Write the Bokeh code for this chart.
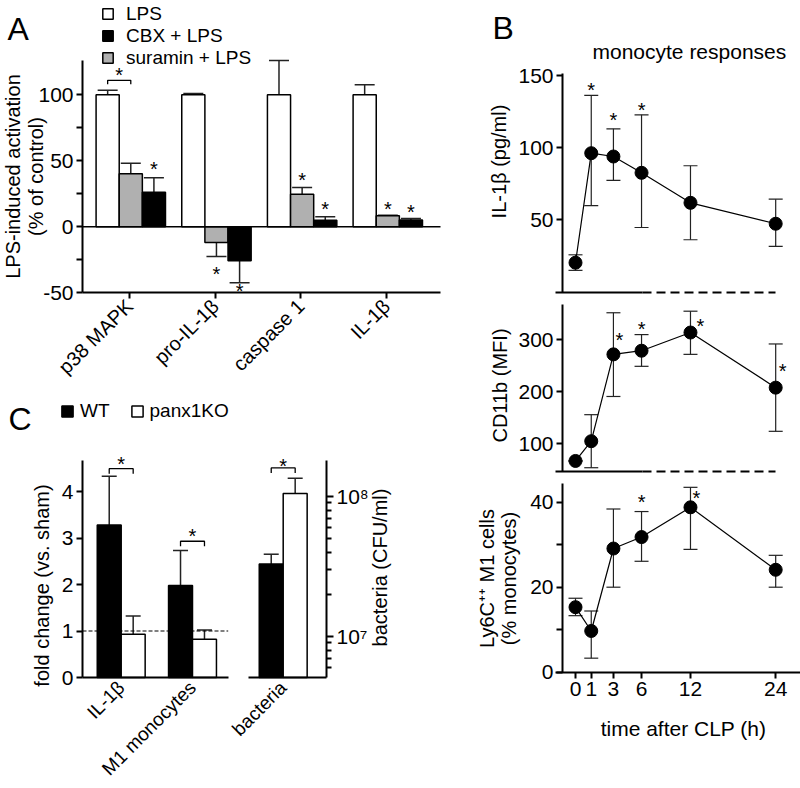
import numpy as np
from bokeh.plotting import figure
from bokeh.models import (ColumnDataSource, Whisker, TeeHead, Legend, LegendItem,
                          Label, FixedTicker, CustomJSTickFormatter, Range1d,
                          LinearAxis, LogAxis, LogScale)
from bokeh.embed import file_html
from bokeh.resources import INLINE
from bokeh.core.properties import value

FONT = "Liberation Sans"
ERRC = "#222222"
GRAY = "#b0b0b0"
W, H = 800, 788
NUM_SIZE = "21px"
CAT_SIZE = "20px"

# ---------------- Panel A data ----------------
a_categories = ["p38 MAPK", "pro-IL-1β", "caspase 1", "IL-1β"]
a_lps = [100.0, 100.0, 100.0, 100.0]
a_lps_err_end = [103.5, 101.0, 126.0, 107.6]
a_suramin = [40.2, -11.9, 24.7, 8.3]
a_suramin_err_end = [48.2, -22.5, 29.8, 8.7]
a_cbx = [26.2, -25.8, 5.0, 5.2]
a_cbx_err_end = [37.1, -42.4, 7.6, 6.3]
a_y_ticks = [-50, -25, 0, 25, 50, 75, 100]
a_y_labels = ["-50", "", "0", "", "50", "", "100"]
a_star_series = ["cbx", "suramin", "cbx", "suramin", "cbx", "suramin", "cbx"]
a_star_cat = [0, 1, 1, 2, 2, 3, 3]
a_star_y = [45.7, -33.6, -46.7, 37.6, 15.4, 15.6, 13.3]
a_bracket_y = 111.0
a_bracket_star_y = 117.0

# ---------------- Panel B data ----------------
time_h = [0, 1, 3, 6, 12, 24]
il1b = [20.3, 96.2, 93.9, 82.6, 61.8, 47.3]
il1b_hi = [25.8, 136.2, 113.1, 122.8, 87.5, 64.3]
il1b_lo = [15.0, 59.8, 77.3, 44.7, 36.2, 31.6]
cd11b = [67.0, 105.0, 272.0, 279.0, 314.0, 208.0]
cd11b_hi = [67.0, 156.0, 352.0, 310.0, 355.0, 292.0]
cd11b_lo = [67.0, 54.0, 191.0, 249.0, 272.0, 124.0]
ly6c = [15.3, 9.7, 29.1, 31.8, 38.8, 24.1]
ly6c_hi = [17.4, 14.4, 38.4, 37.8, 43.5, 27.5]
ly6c_lo = [13.3, 3.3, 20.0, 26.1, 28.9, 20.0]
b1_star_t = [1, 3, 6]
b1_star_y = [142.0, 121.0, 128.5]
b2_star_t = [3, 6, 12, 24]
b2_star_y = [305.0, 327.0, 332.0, 245.0]
b3_star_t = [6, 12]
b3_star_y = [40.8, 41.6]

# ---------------- Panel C data ----------------
c_categories = ["IL-1β", "M1 monocytes"]
c_wt = [3.28, 1.98]
c_wt_err_end = [4.33, 2.73]
c_ko = [0.93, 0.82]
c_ko_err_end = [1.32, 1.02]
c_bracket_y = [4.49, 2.93]
bac_category = ["bacteria"]
bac_wt = [3.3e7]
bac_wt_err_end = [3.87e7]
bac_ko = [1.05e8]
bac_ko_err_end = [1.35e8]
bac_bracket_y = 1.6e8
c2_major = [1e7, 1e8]
c2_minor = [6e6, 7e6, 8e6, 9e6, 2e7, 3e7, 4e7, 5e7, 6e7, 7e7, 8e7, 9e7]


# ---------------- helpers: pixel geometry -> ranges ----------------
def xlin(v0, p0, ppu):
    f = lambda q: v0 + (q - p0) / ppu
    return f, Range1d(f(0), f(W))


def ylin(v0, p0, ppu):
    f = lambda q: v0 - (q - p0) / ppu
    return f, Range1d(f(H), f(0))


def ylog(v0, p0, ppd):
    f = lambda q: 10 ** (np.log10(v0) - (q - p0) / ppd)
    return f, Range1d(f(H), f(0))


xA, rxA = xlin(0.0, 129.0, 85.67)
yA, ryA = ylin(0.0, 226.3, 1.32)
xC1, rxC1 = xlin(0.0, 120.7, 71.3)
yC1, ryC1 = ylin(0.0, 677.0, 46.5)
xC2, rxC2 = xlin(0.0, 282.7, 71.3)
yC2, ryC2 = ylog(1e7, 636.0, 140.0)
xB, rxB = xlin(0.0, 575.0, 15.75)
yB1, ryB1 = ylin(0.0, 291.5, 1.443)
yB2, ryB2 = ylin(300.0, 339.3, 0.52)
yB3, ryB3 = ylin(0.0, 671.7, 4.25)

p = figure(width=W, height=H, min_border=0, x_axis_location=None, y_axis_location=None,
           toolbar_location=None, output_backend="svg",
           x_range=Range1d(0, W), y_range=Range1d(H, 0),
           extra_x_ranges=dict(ax=rxA, c1x=rxC1, c2x=rxC2, bx=rxB),
           extra_y_ranges=dict(ay=ryA, c1y=ryC1, c2y=ryC2, b1y=ryB1, b2y=ryB2, b3y=ryB3),
           extra_y_scales=dict(c2y=LogScale()))
p.outline_line_color = None
p.background_fill_color = "white"
p.border_fill_color = "white"
p.grid.visible = False

STAR_DY = 3


def style(ax, size=NUM_SIZE):
    ax.axis_line_width = 2
    ax.axis_line_color = "black"
    ax.major_tick_line_width = 2
    ax.major_tick_line_color = "black"
    ax.major_tick_in = 0
    ax.major_tick_out = 6
    ax.minor_tick_line_color = None
    ax.major_label_text_font = FONT
    ax.major_label_text_font_size = size
    ax.major_label_text_color = "black"
    ax.major_label_standoff = 3
    return ax


def fixed_fmt(tick_vals, tick_labels):
    return CustomJSTickFormatter(args=dict(tv=[float(v) for v in tick_vals], tl=list(tick_labels)), code="""
        for (let i = 0; i < tv.length; i++) {
            if (Math.abs(tv[i] - tick) <= 1e-6 * Math.max(1, Math.abs(tick))) return tl[i];
        }
        return '';
    """)


def add_axis(side, xr, yr, loc, bounds, ticks=None, labels=None, minor=None, log=False,
             size=NUM_SIZE, dash=None):
    cls = LogAxis if log else LinearAxis
    ax = style(cls(x_range_name=xr, y_range_name=yr, fixed_location=loc, bounds=bounds), size)
    if ticks is None:
        ax.ticker = FixedTicker(ticks=[])
        ax.major_label_text_font_size = "0px"
    else:
        ax.ticker = FixedTicker(ticks=list(ticks), minor_ticks=list(minor or []))
        if labels is not None:
            ax.formatter = fixed_fmt(ticks, labels)
    if dash is not None:
        ax.axis_line_dash = dash
    p.add_layout(ax, side)
    return ax


def label(text, x, y, size="20px", angle=0.0, align="left", baseline="alphabetic"):
    p.add_layout(Label(x=x, y=y, text=text, text_font=FONT, text_font_size=size,
                       text_align=align, text_baseline=baseline, angle=angle,
                       text_color="black"))


def stars(xr, yr, xs, ys, dx=None, size="20px"):
    n = len(xs)
    src = ColumnDataSource(dict(x=list(xs), y=list(ys), t=["*"] * n,
                                dx=list(dx) if dx is not None else [0] * n))
    p.text(x="x", y="y", text="t", x_offset="dx", y_offset=STAR_DY, source=src,
           text_font=value(FONT), text_font_size=size, text_align="center",
           text_baseline="alphabetic", text_color="black",
           x_range_name=xr, y_range_name=yr)


def bar_whiskers(xr, yr, xs, vals, ends, size, lw=1.5):
    up = dict(x=[], lo=[], hi=[])
    dn = dict(x=[], lo=[], hi=[])
    for x, v, e in zip(xs, vals, ends):
        if e >= v:
            up["x"].append(x); up["lo"].append(v); up["hi"].append(e)
        else:
            dn["x"].append(x); dn["lo"].append(e); dn["hi"].append(v)
    if up["x"]:
        p.add_layout(Whisker(source=ColumnDataSource(up), base="x", lower="lo", upper="hi",
                             x_range_name=xr, y_range_name=yr,
                             line_color=ERRC, line_width=lw, lower_head=None,
                             upper_head=TeeHead(size=size, line_color=ERRC, line_width=lw)))
    if dn["x"]:
        p.add_layout(Whisker(source=ColumnDataSource(dn), base="x", lower="lo", upper="hi",
                             x_range_name=xr, y_range_name=yr,
                             line_color=ERRC, line_width=lw, upper_head=None,
                             lower_head=TeeHead(size=size, line_color=ERRC, line_width=lw)))


def bracket(xr, yr, x0, x1, y, yb):
    p.line(x=[x0, x0, x1, x1], y=[yb, y, y, yb], line_color="black", line_width=1.3,
           x_range_name=xr, y_range_name=yr)


# ======================= Panel A =======================
a_idx = np.arange(len(a_categories), dtype=float)
OFF = {"lps": -0.255, "suramin": 0.015, "cbx": 0.285}
BW = 0.27
A_LEFT, A_RIGHT = xA(82), xA(440)
A_BOTTOM, A_TOP = -50.0, yA(60)
kwA = dict(x_range_name="ax", y_range_name="ay")
r_lps = p.vbar(x=a_idx + OFF["lps"], top=a_lps, bottom=0, width=BW,
               fill_color="white", line_color="black", line_width=1.5, **kwA)
r_sur = p.vbar(x=a_idx + OFF["suramin"], top=a_suramin, bottom=0, width=BW,
               fill_color=GRAY, line_color="black", line_width=1.5, **kwA)
r_cbx = p.vbar(x=a_idx + OFF["cbx"], top=a_cbx, bottom=0, width=BW,
               fill_color="black", line_color="black", line_width=1.5, **kwA)
bar_whiskers("ax", "ay", a_idx + OFF["lps"], a_lps, a_lps_err_end, 20)
bar_whiskers("ax", "ay", a_idx + OFF["suramin"], a_suramin, a_suramin_err_end, 20)
bar_whiskers("ax", "ay", a_idx + OFF["cbx"], a_cbx, a_cbx_err_end, 20)
p.line(x=[A_LEFT, A_RIGHT], y=[0, 0], line_color="black", line_width=1.5, **kwA)
stars("ax", "ay", [a_star_cat[i] + OFF[a_star_series[i]] for i in range(len(a_star_cat))], a_star_y)
bracket("ax", "ay", OFF["lps"], OFF["suramin"], a_bracket_y, a_bracket_y - 3.0)
stars("ax", "ay", [(OFF["lps"] + OFF["suramin"]) / 2], [a_bracket_star_y])

add_axis("left", "ax", "ay", A_LEFT, (A_BOTTOM, A_TOP), a_y_ticks, a_y_labels)
axA = add_axis("below", "ax", "ay", A_BOTTOM, (A_LEFT, A_RIGHT), list(a_idx), a_categories,
               size=CAT_SIZE)
axA.major_label_orientation = np.pi / 4
axA.major_label_standoff = 4

legA = Legend(items=[LegendItem(label="LPS", renderers=[r_lps]),
                     LegendItem(label="CBX + LPS", renderers=[r_cbx]),
                     LegendItem(label="suramin + LPS", renderers=[r_sur])],
              location=(101, H - 8.5 - 60), orientation="vertical", background_fill_alpha=0,
              border_line_alpha=0, padding=0, margin=0, spacing=0,
              glyph_width=13, glyph_height=13, label_height=20, label_standoff=12,
              label_text_font=FONT, label_text_font_size="19px", label_text_color="black")
p.add_layout(legA)
label("A", 7, 28, size="32px")
label("LPS-induced activation", 12, 176, angle=np.pi / 2, align="center", baseline="middle")
label("(% of control)", 35, 176, angle=np.pi / 2, align="center", baseline="middle")

# ======================= Panel C =======================
c_idx = np.arange(len(c_categories), dtype=float)
CW = 0.336
kwC1 = dict(x_range_name="c1x", y_range_name="c1y")
C1_LEFT, C1_RIGHT, C1_TOP = xC1(82), xC1(227.7), yC1(460)
r_wt = p.vbar(x=c_idx - CW / 2, top=c_wt, bottom=0, width=CW,
              fill_color="black", line_color="black", line_width=1.5, **kwC1)
r_ko = p.vbar(x=c_idx + CW / 2, top=c_ko, bottom=0, width=CW,
              fill_color="white", line_color="black", line_width=1.5, **kwC1)
bar_whiskers("c1x", "c1y", c_idx - CW / 2, c_wt, c_wt_err_end, 15)
bar_whiskers("c1x", "c1y", c_idx + CW / 2, c_ko, c_ko_err_end, 15)
p.line(x=[C1_LEFT, C1_RIGHT], y=[1, 1], line_color="black", line_width=1.2, line_dash="4 2", **kwC1)
for i in range(len(c_categories)):
    bracket("c1x", "c1y", c_idx[i] - CW / 2, c_idx[i] + CW / 2, c_bracket_y[i], c_bracket_y[i] - 0.11)
stars("c1x", "c1y", c_idx, [y + 0.17 for y in c_bracket_y])
add_axis("left", "c1x", "c1y", C1_LEFT, (0, C1_TOP), [0, 1, 2, 3, 4], ["0", "1", "2", "3", "4"])
axC1 = add_axis("below", "c1x", "c1y", 0, (C1_LEFT, C1_RIGHT), list(c_idx), c_categories,
                size="19px")
axC1.major_label_orientation = np.pi / 4
axC1.major_tick_out = 0
axC1.major_label_standoff = 7

legC = Legend(items=[LegendItem(label="WT", renderers=[r_wt]),
                     LegendItem(label="panx1KO", renderers=[r_ko])],
              location=(60, H - 402 - 20), orientation="horizontal", background_fill_alpha=0,
              border_line_alpha=0, padding=0, margin=0, spacing=20,
              glyph_width=14, glyph_height=14, label_height=20, label_standoff=6,
              label_text_font=FONT, label_text_font_size="19px", label_text_color="black")
p.add_layout(legC)
label("C", 8, 418, size="32px")
label("fold change (vs. sham)", 41, 585, angle=np.pi / 2, align="center", baseline="middle")

b_idx = np.arange(len(bac_category), dtype=float)
kwC2 = dict(x_range_name="c2x", y_range_name="c2y")
C2_LEFT, C2_RIGHT, C2_BOTTOM, C2_TOP = xC2(248), xC2(326), yC2(677), yC2(460)
p.vbar(x=b_idx - CW / 2, top=bac_wt, bottom=C2_BOTTOM, width=CW,
       fill_color="black", line_color="black", line_width=1.5, **kwC2)
p.vbar(x=b_idx + CW / 2, top=bac_ko, bottom=C2_BOTTOM, width=CW,
       fill_color="white", line_color="black", line_width=1.5, **kwC2)
bar_whiskers("c2x", "c2y", b_idx - CW / 2, bac_wt, bac_wt_err_end, 15)
bar_whiskers("c2x", "c2y", b_idx + CW / 2, bac_ko, bac_ko_err_end, 15)
bracket("c2x", "c2y", b_idx[0] - CW / 2, b_idx[0] + CW / 2, bac_bracket_y, bac_bracket_y * 0.92)
stars("c2x", "c2y", b_idx, [bac_bracket_y * 1.09])
axC2 = add_axis("right", "c2x", "c2y", C2_RIGHT, (C2_BOTTOM, C2_TOP), c2_major, ["10⁷", "10⁸"],
                minor=c2_minor, log=True)
axC2.minor_tick_line_color = "black"
axC2.minor_tick_line_width = 2
axC2.minor_tick_in = 0
axC2.minor_tick_out = 5
axC2.major_tick_out = 7
axC2b = add_axis("below", "c2x", "c2y", C2_BOTTOM, (C2_LEFT, C2_RIGHT), list(b_idx), bac_category,
                 size="19px")
axC2b.major_label_orientation = np.pi / 4
axC2b.major_tick_out = 0
axC2b.major_label_standoff = 7
label("bacteria (CFU/ml)", 379, 567, angle=np.pi / 2, align="center", baseline="middle")

# ======================= Panel B =======================
u = np.power(np.array(time_h, dtype=float), 0.8)
u_of = dict(zip(time_h, u))
B_AXIS_X = xB(562)
B_LINE_START = xB(555)
U_BREAK = xB(642)
U_END = u_of[24]


def time_panel(yr, vals, lo, hi):
    p.add_layout(Whisker(source=ColumnDataSource(dict(x=u, lo=lo, hi=hi)), base="x",
                         lower="lo", upper="hi", x_range_name="bx", y_range_name=yr,
                         line_color=ERRC, line_width=1.2,
                         upper_head=TeeHead(size=14, line_color=ERRC, line_width=1.2),
                         lower_head=TeeHead(size=14, line_color=ERRC, line_width=1.2)))
    p.line(x=u, y=vals, line_color="black", line_width=1.2, x_range_name="bx", y_range_name=yr)
    p.scatter(x=u, y=vals, size=13, fill_color="black", line_color="black",
              x_range_name="bx", y_range_name=yr)


# B1
B1_BASE, B1_TOP = 0.0, yB1(73)
time_panel("b1y", il1b, il1b_lo, il1b_hi)
stars("bx", "b1y", [u_of[t] for t in b1_star_t], b1_star_y)
add_axis("left", "bx", "b1y", B_AXIS_X, (B1_BASE, B1_TOP), [50, 100, 150], ["50", "100", "150"])
add_axis("below", "bx", "b1y", B1_BASE, (B_LINE_START, U_BREAK))
add_axis("below", "bx", "b1y", B1_BASE, (U_BREAK, U_END), dash="9 5")
label("B", 492, 27, size="32px")
label("monocyte responses", 592, 51, size="21px")
label("IL-1β (pg/ml)", 498, 161, angle=np.pi / 2, align="center", baseline="middle")

# B2
B2_BASE, B2_TOP = yB2(470.7), yB2(304)
time_panel("b2y", cd11b, cd11b_lo, cd11b_hi)
stars("bx", "b2y", [u_of[t] for t in b2_star_t], b2_star_y, dx=[6, 0, 10, 7])
add_axis("left", "bx", "b2y", B_AXIS_X, (B2_BASE, B2_TOP), [100, 200, 300], ["100", "200", "300"])
add_axis("below", "bx", "b2y", B2_BASE, (B_LINE_START, U_BREAK))
add_axis("below", "bx", "b2y", B2_BASE, (U_BREAK, U_END), dash="9 5")
label("CD11b (MFI)", 499, 385, angle=np.pi / 2, align="center", baseline="middle")

# B3
B3_TOP = yB3(483)
time_panel("b3y", ly6c, ly6c_lo, ly6c_hi)
stars("bx", "b3y", [u_of[t] for t in b3_star_t], b3_star_y, dx=[0, 6])
add_axis("left", "bx", "b3y", B_AXIS_X, (0, B3_TOP), [0, 10, 20, 30, 40], ["0", "", "20", "", "40"])
axB3 = add_axis("below", "bx", "b3y", 0, (B_LINE_START, xB(800)), list(u), [str(t) for t in time_h])
axB3.major_label_standoff = 4
label("Ly6C⁺⁺ M1 cells", 486, 578, angle=np.pi / 2, align="center", baseline="middle")
label("(% monocytes)", 508, 578, angle=np.pi / 2, align="center", baseline="middle")
label("time after CLP (h)", 683, 728, size="21px", align="center")

open("out.html", "w").write(file_html(p, INLINE))
